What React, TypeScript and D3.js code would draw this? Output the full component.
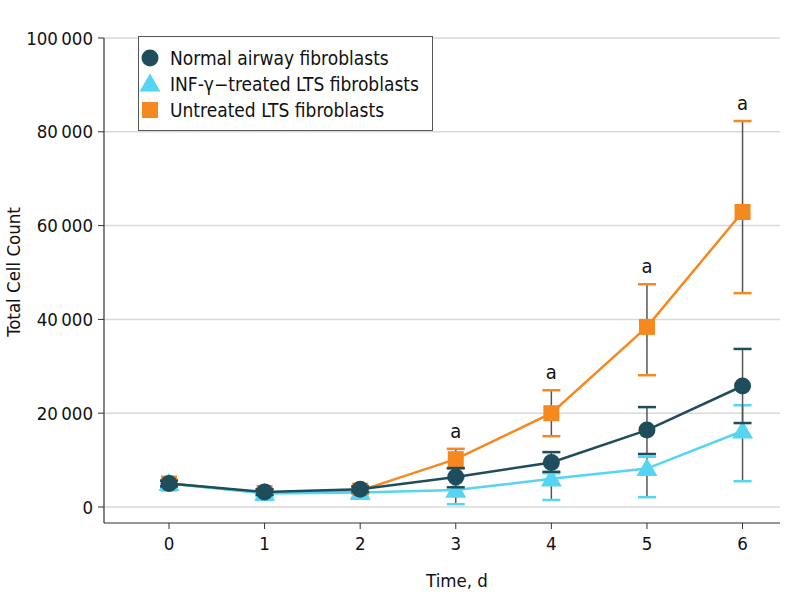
import * as d3 from "d3";

const days = [0, 1, 2, 3, 4, 5, 6];
const yTicks = [0, 20000, 40000, 60000, 80000, 100000];

const normalMean = [5000, 3200, 3800, 6400, 9500, 16400, 25800];
const normalLow = [4400, 2600, 3200, 4200, 7500, 11300, 17900];
const normalHigh = [5600, 3800, 4400, 8300, 11700, 21300, 33700];

const infMean = [5000, 2900, 3100, 3600, 6000, 8200, 16200];
const infLow = [4300, 2200, 2000, 600, 1500, 2100, 5500];
const infHigh = [5700, 3600, 4100, 6200, 7200, 10700, 21700];

const untreatedMean = [5000, 3000, 3500, 10200, 20000, 38400, 62900];
const untreatedLow = [4300, 2500, 2800, 8200, 15100, 28100, 45600];
const untreatedHigh = [5700, 3600, 4200, 12400, 24900, 47500, 82300];

const significant = [3, 4, 5, 6];

const legendLabels = [
  "Normal airway fibroblasts",
  "INF-\u03b3\u2212treated LTS fibroblasts",
  "Untreated LTS fibroblasts",
];

const W = 798;
const H = 612;
const FONT = "'Liberation Sans Narrow', 'DejaVu Sans Condensed', 'Noto Sans', sans-serif";

const x = d3.scaleLinear().domain([-0.68, 6.35]).range([104, 776]);
const y = d3.scaleLinear().domain([0, 100000]).range([507, 38]);

const fmt = (v: number) => d3.format(",")(v).replace(/,/g, "\u2009");

type Series = {
  name: string;
  color: string;
  shape: "circle" | "triangle" | "square";
  mean: number[];
  low: number[];
  high: number[];
};

const series: Series[] = [
  { name: legendLabels[2], color: "#f5891f", shape: "square", mean: untreatedMean, low: untreatedLow, high: untreatedHigh },
  { name: legendLabels[1], color: "#55d5f3", shape: "triangle", mean: infMean, low: infLow, high: infHigh },
  { name: legendLabels[0], color: "#1f4d5c", shape: "circle", mean: normalMean, low: normalLow, high: normalHigh },
];

const Marker = ({ shape, color, cx, cy }: { shape: string; color: string; cx: number; cy: number }) => {
  if (shape === "circle") return <circle cx={cx} cy={cy} r={8.5} fill={color} />;
  if (shape === "square") return <rect x={cx - 8} y={cy - 8} width={16} height={16} fill={color} />;
  const sym = d3.symbol().type(d3.symbolTriangle).size(190)();
  return <path d={sym || ""} transform={`translate(${cx},${cy + 1.5})`} fill={color} />;
};

export default function App() {
  const line = d3.line<number>().x((_, i) => x(days[i])).y((d) => y(d));
  const legendItems = [series[2], series[1], series[0]];
  return (
    <svg width={W} height={H} style={{ position: "absolute", left: 0, top: 0, background: "#fff" }} fontFamily={FONT}>
      {yTicks.map((t) => (
        <g key={t}>
          <line x1={104} x2={780} y1={y(t)} y2={y(t)} stroke="#d9d9d9" strokeWidth={1.5} />
          <line x1={98} x2={104} y1={y(t)} y2={y(t)} stroke="#333" strokeWidth={1} />
          <text x={93} y={y(t)} dy="0.36em" textAnchor="end" fontSize={18.5} fill="#111">
            {fmt(t)}
          </text>
        </g>
      ))}
      <line x1={104} x2={104} y1={38} y2={523} stroke="#333" strokeWidth={1.2} />
      <line x1={104} x2={780} y1={523} y2={523} stroke="#333" strokeWidth={1.2} />
      {days.map((d) => (
        <g key={d}>
          <line x1={x(d)} x2={x(d)} y1={523} y2={529} stroke="#333" strokeWidth={1} />
          <text x={x(d)} y={550} textAnchor="middle" fontSize={18.5} fill="#111">
            {d}
          </text>
        </g>
      ))}
      <text x={457} y={587} textAnchor="middle" fontSize={18.5} fill="#111">
        Time, d
      </text>
      <text transform={`translate(20,272) rotate(-90)`} textAnchor="middle" fontSize={18.5} fill="#111">
        Total Cell Count
      </text>

      {series.map((s) => (
        <g key={s.name}>
          <path d={line(s.mean) || ""} fill="none" stroke={s.color} strokeWidth={2.5} />
          {days.map((d, i) => (
            <g key={d}>
              <line x1={x(d)} x2={x(d)} y1={y(s.low[i])} y2={y(s.high[i])} stroke="#555" strokeWidth={1.5} />
              <line x1={x(d) - 9} x2={x(d) + 9} y1={y(s.low[i])} y2={y(s.low[i])} stroke={s.color} strokeWidth={2.5} />
              <line x1={x(d) - 9} x2={x(d) + 9} y1={y(s.high[i])} y2={y(s.high[i])} stroke={s.color} strokeWidth={2.5} />
            </g>
          ))}
          {days.map((d, i) => (
            <Marker key={d} shape={s.shape} color={s.color} cx={x(d)} cy={y(s.mean[i])} />
          ))}
        </g>
      ))}

      {significant.map((d) => (
        <text key={d} x={x(d)} y={y(untreatedHigh[d]) - 11} textAnchor="middle" fontSize={20} fill="#111">
          a
        </text>
      ))}

      <rect x={138.5} y={36.5} width={294} height={94} fill="#fff" stroke="#555" strokeWidth={1} />
      {legendItems.map((s, i) => (
        <g key={s.name}>
          <Marker shape={s.shape} color={s.color} cx={150} cy={58 + i * 26} />
          <text x={170} y={58 + i * 26} dy="0.36em" fontSize={19} fill="#111">
            {s.name}
          </text>
        </g>
      ))}
    </svg>
  );
}
